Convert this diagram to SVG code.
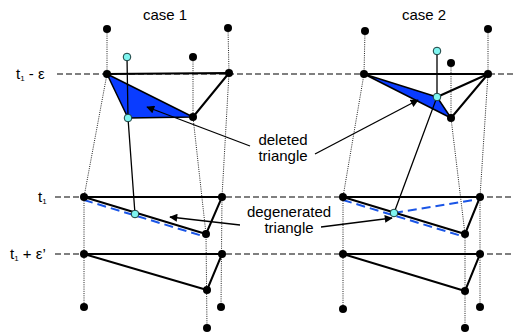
<svg xmlns="http://www.w3.org/2000/svg" width="513" height="334" viewBox="0 0 513 334">
<defs>
<marker id="ah" viewBox="0 0 10 10" refX="9" refY="5" markerWidth="9" markerHeight="8" markerUnits="userSpaceOnUse" orient="auto"><path d="M0,0 L10,5 L0,10 z" fill="#000"/></marker>
<style>
text{font-family:"Liberation Sans",Arial,sans-serif;font-size:15px;fill:#000}
.sub{font-size:8px}
.hd{stroke:#555;stroke-width:1.3;stroke-dasharray:6 3;fill:none}
.dot{stroke:#222;stroke-width:1;stroke-dasharray:1 1.2;fill:none}
.e{stroke:#000;stroke-width:2;fill:none;stroke-linejoin:round}
.t{stroke:#000;stroke-width:1.3;fill:none}
.bd{stroke:#1a55e6;stroke-width:2;stroke-dasharray:9 5;fill:none}
.tri{fill:#0a3cff;stroke:#000;stroke-width:1.5;stroke-linejoin:round}
.n{fill:#000}
.c{fill:#7ff5f0;stroke:#1a3c3c;stroke-width:1}
.ar{stroke:#000;stroke-width:1.3;fill:none;marker-end:url(#ah)}
</style>
</defs>
<g id="labels">
<text x="165" y="20" text-anchor="middle">case 1</text>
<text x="424" y="20" text-anchor="middle">case 2</text>
<text x="16" y="79">t<tspan class="sub" dy="2">1</tspan><tspan dy="-2"> - ε</tspan></text>
<text x="38" y="202">t<tspan class="sub" dy="2">1</tspan></text>
<text x="10" y="259">t<tspan class="sub" dy="2">1</tspan><tspan dy="-2"> + ε’</tspan></text>
<text x="283" y="145" text-anchor="middle">deleted</text>
<text x="283" y="161" text-anchor="middle">triangle</text>
<text x="289" y="217" text-anchor="middle">degenerated</text>
<text x="289" y="233" text-anchor="middle">triangle</text>
</g>
<g id="connectors">
<line class="hd" x1="57" y1="74" x2="513" y2="74"/>
<line class="hd" x1="55" y1="197" x2="513" y2="197"/>
<line class="hd" x1="55" y1="254" x2="513" y2="254"/>
<path class="dot" d="M107,29 L107,74 L84,197 L84,307"/>
<path class="dot" d="M228,28 L229,73 L222,197 L221,307"/>
<path class="dot" d="M193,57 L193,117 L206,234 L207,328"/>
<path class="dot" d="M365,31 L364,74 L343,197 L343,309"/>
<path class="dot" d="M488,29 L488,74 L480,197 L480,307"/>
<path class="dot" d="M451,63 L451,118 L465,234 L465,328"/>
</g>
<g id="case1">
<polygon class="tri" points="107,74 128,118 193,117"/>
<path class="e" d="M107,74 L229,73 L193,117"/>
<path class="t" d="M127,57 L128,118 L135,214"/>
<path class="bd" d="M84,200 L206,237"/>
<path class="e" d="M206,234 L84,197 L222,197 L206,234"/>
<path class="e" d="M207,290 L84,254 L222,254 L207,290"/>
<circle class="n" cx="107" cy="29" r="4"/><circle class="n" cx="228" cy="28" r="4"/><circle class="n" cx="193" cy="57" r="4"/>
<circle class="n" cx="107" cy="74" r="4"/><circle class="n" cx="229" cy="73" r="4"/><circle class="n" cx="193" cy="117" r="4"/>
<circle class="n" cx="84" cy="197" r="4"/><circle class="n" cx="222" cy="197" r="4"/><circle class="n" cx="206" cy="234" r="4"/>
<circle class="n" cx="84" cy="254" r="4"/><circle class="n" cx="222" cy="254" r="4"/><circle class="n" cx="207" cy="290" r="4"/>
<circle class="n" cx="84" cy="307" r="4"/><circle class="n" cx="221" cy="307" r="4"/><circle class="n" cx="207" cy="328" r="4"/>
<circle class="c" cx="127" cy="57" r="3.8"/><circle class="c" cx="128" cy="118" r="3.8"/><circle class="c" cx="135" cy="214" r="3.8"/>
</g>
<g id="case2">
<polygon class="tri" points="364,74 437,97 451,118"/>
<path class="e" d="M364,74 L488,74 L451,118 M437,97 L488,74"/>
<path class="t" d="M437,51 L437,97 L394,213"/>
<path class="bd" d="M343,200 L465,237 M394,213 L480,199"/>
<path class="e" d="M465,234 L343,197 L480,197 L465,234"/>
<path class="e" d="M465,291 L343,254 L480,254 L465,291"/>
<circle class="n" cx="365" cy="31" r="4"/><circle class="n" cx="488" cy="29" r="4"/><circle class="n" cx="451" cy="63" r="4"/>
<circle class="n" cx="364" cy="74" r="4"/><circle class="n" cx="488" cy="74" r="4"/><circle class="n" cx="451" cy="118" r="4"/>
<circle class="n" cx="343" cy="197" r="4"/><circle class="n" cx="480" cy="197" r="4"/><circle class="n" cx="465" cy="234" r="4"/>
<circle class="n" cx="343" cy="254" r="4"/><circle class="n" cx="480" cy="254" r="4"/><circle class="n" cx="465" cy="291" r="4"/>
<circle class="n" cx="343" cy="309" r="4"/><circle class="n" cx="480" cy="307" r="4"/><circle class="n" cx="465" cy="328" r="4"/>
<circle class="c" cx="437" cy="51" r="3.8"/><circle class="c" cx="437" cy="97" r="3.8"/><circle class="c" cx="394" cy="213" r="3.8"/>
</g>
<g id="arrows">
<line class="ar" x1="250" y1="146" x2="147" y2="107"/>
<line class="ar" x1="315" y1="154" x2="418" y2="100"/>
<line class="ar" x1="240" y1="225" x2="170" y2="217"/>
<line class="ar" x1="321" y1="227" x2="392" y2="218"/>
</g>
</svg>
